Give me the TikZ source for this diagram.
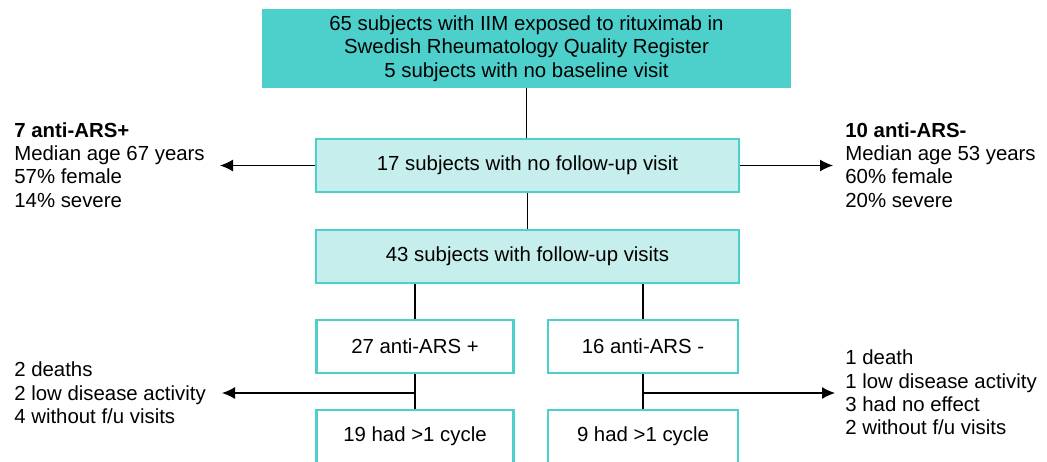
\documentclass[tikz,border=0pt]{standalone}
\usepackage{fontspec}
\setmainfont{Liberation Sans}
\usetikzlibrary{arrows.meta}

\definecolor{tealdark}{RGB}{77,208,204}
\definecolor{teallight}{RGB}{197,238,236}

\tikzset{
  box/.style={draw=tealdark, line width=1.3pt, minimum height=1.06cm, inner sep=0pt, align=center, font=\fontsize{11.6}{13.3}\selectfont},
  note/.style={inner sep=0pt, align=left, font=\fontsize{11.6}{13.3}\selectfont},
  link/.style={line width=0.7pt},
  arr/.style={line width=0.7pt, -{Latex[length=0.26cm, width=0.24cm]}}
}

\begin{document}
\begin{tikzpicture}[x=0.02cm, y=-0.02cm]
\path [use as bounding box] (0, 0) rectangle (1047, 461);
\clip (0, 0) rectangle (1047, 461);

% boxes
\node [box, fill=tealdark, minimum width=10.54cm, minimum height=1.54cm] (reg) at (526.5, 48.5) {65 subjects with IIM exposed to rituximab in\\Swedish Rheumatology Quality Register\\5 subjects with no baseline visit};
\node [box, fill=teallight, minimum width=8.46cm] (nofu) at (527.5, 165.5) {17 subjects with no follow-up visit};
\node [box, fill=teallight, minimum width=8.46cm] (fu) at (527.5, 256.5) {43 subjects with follow-up visits};
\node [box, fill=white, minimum width=3.94cm] (pos) at (415, 346.5) {27 anti-ARS +};
\node [box, fill=white, minimum width=3.8cm] (neg) at (643, 346.5) {16 anti-ARS -};
\node [box, fill=white, minimum width=3.94cm] (poscyc) at (415, 436.5) {19 had >1 cycle};
\node [box, fill=white, minimum width=3.8cm] (negcyc) at (643, 436.5) {9 had >1 cycle};

% side notes
\node [note, anchor=west] (posinfo) at (14, 165) {\textbf{7 anti-ARS+}\\Median age 67 years\\57\% female\\14\% severe};
\node [note, anchor=west] (neginfo) at (845, 165) {\textbf{10 anti-ARS-}\\Median age 53 years\\60\% female\\20\% severe};
\node [note, anchor=west] (posout) at (14, 393) {2 deaths\\2 low disease activity\\4 without f/u visits};
\node [note, anchor=west] (negout) at (845, 392.5) {1 death\\1 low disease activity\\3 had no effect\\2 without f/u visits};

\coordinate (tipA) at (220, 165.5);
\coordinate (tipB) at (833, 165.5);
\coordinate (tipC) at (222, 393);
\coordinate (tipD) at (835, 393);

% connectors
\draw [link] (reg.south) -- (reg.south |- nofu.north);
\draw [link] (nofu) -- (fu);
\draw [link] (pos.north |- fu.south) -- (pos.north);
\draw [link] (neg.north |- fu.south) -- (neg.north);
\draw [link] (pos) -- (poscyc);
\draw [link] (neg) -- (negcyc);
\draw [arr] (nofu.west) -- (tipA);
\draw [arr] (nofu.east) -- (tipB);
\draw [arr] (pos.south |- tipC) -- (tipC);
\draw [arr] (neg.south |- tipD) -- (tipD);
\end{tikzpicture}
\end{document}
